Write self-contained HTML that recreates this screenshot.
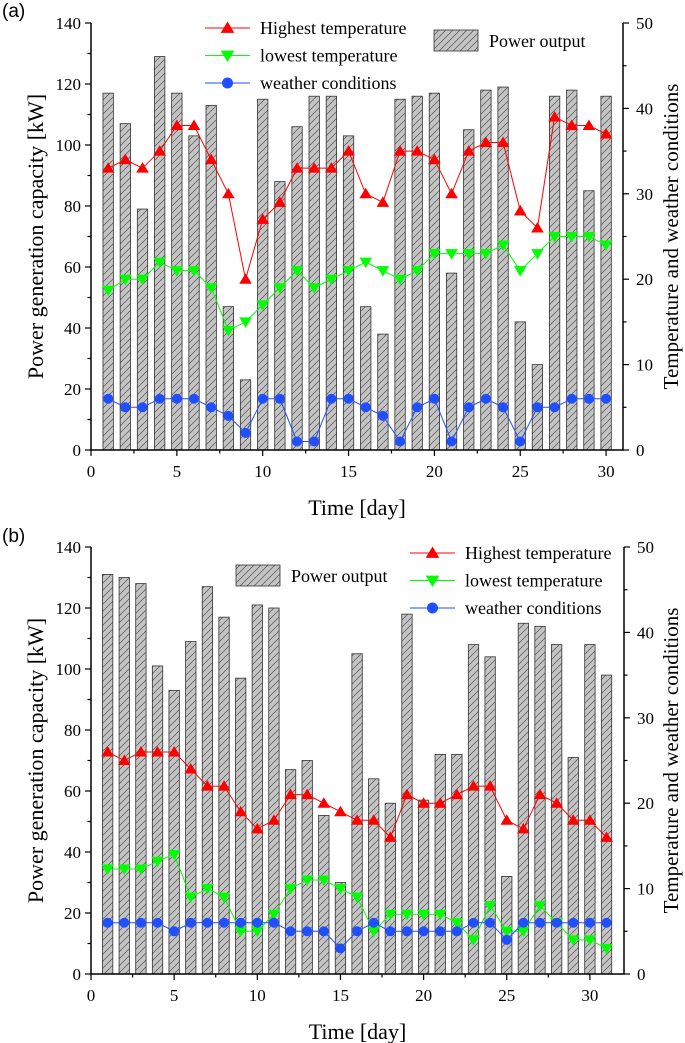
<!DOCTYPE html>
<html><head><meta charset="utf-8">
<style>
html,body{margin:0;padding:0;background:#fff;}
svg{display:block;}
text{font-family:"Liberation Serif",serif;fill:#000;}
</style></head>
<body>
<svg id="fig" width="685" height="1043" viewBox="0 0 685 1043" xmlns="http://www.w3.org/2000/svg">
<defs>
<pattern id="hatch" patternUnits="userSpaceOnUse" width="7" height="7">
<rect width="7" height="7" fill="#c4c4c4"/>
<path d="M-1,8 L8,-1 M-2,2 L2,-2 M5,9 L9,5" stroke="#555" stroke-width="0.7"/>
</pattern>
</defs>
</svg>
<script>
// ---- Chart (a) data ----
const daysA = [1,2,3,4,5,6,7,8,9,10,11,12,13,14,15,16,17,18,19,20,21,22,23,24,25,26,27,28,29,30];
const powerA = [117,107,79,129,117,103,113,47,23,115,88,106,116,116,103,47,38,115,116,117,58,105,118,119,42,28,116,118,85,116];
const highA = [33,34,33,35,38,38,34,30,20,27,29,33,33,33,35,30,29,35,35,34,30,35,36,36,28,26,39,38,38,37];
const lowA = [18.7,20,20,22,21,21,19,14,15,17,19,21,19,20,21,22,21,20,21,23,23,23,23,24,21,23,25,25,25,24];
const weatherA = [6,5,5,6,6,6,5,4,2,6,6,1,1,6,6,5,4,1,5,6,1,5,6,5,1,5,5,6,6,6];
// ---- Chart (b) data ----
const daysB = [1,2,3,4,5,6,7,8,9,10,11,12,13,14,15,16,17,18,19,20,21,22,23,24,25,26,27,28,29,30,31];
const powerB = [131,130,128,101,93,109,127,117,97,121,120,67,70,52,30,105,64,56,118,57,72,72,108,104,32,115,114,108,71,108,98];
const highB = [26,25,26,26,26,24,22,22,19,17,18,21,21,20,19,18,18,16,21,20,20,21,22,22,18,17,21,20,18,18,16];
const lowB = [12.3,12.3,12.3,13.2,14,9,10,9,5,5,7,10,11,11,10,9,5,7,7,7,7,6,4,8,5,5,8,6,4,4,3];
const weatherB = [6,6,6,6,5,6,6,6,6,6,6,5,5,5,3,5,6,5,5,5,5,5,6,6,4,6,6,6,6,6,6];
// ---- Axis ticks ----
const leftTicks = [0,20,40,60,80,100,120,140];
const rightTicks = [0,10,20,30,40,50];
const xTicksA = [0,5,10,15,20,25,30];
const xTicksB = [0,5,10,15,20,25,30];

const NS = "http://www.w3.org/2000/svg";
const svg = document.getElementById('fig');
function mk(tag, attrs, parent){
  const e = document.createElementNS(NS, tag);
  for (const k in attrs) e.setAttribute(k, attrs[k]);
  (parent||svg).appendChild(e);
  return e;
}
function triUp(x,y,s){return `${x},${y-s} ${x+s*1.05},${y+s*0.75} ${x-s*1.05},${y+s*0.75}`;}
function triDown(x,y,s){return `${x},${y+s} ${x+s*1.05},${y-s*0.75} ${x-s*1.05},${y-s*0.75}`;}

function drawChart(cfg, days, power, high, low, weather, xTicks){
  const g = mk('g', {});
  
  
  const X0 = cfg.x0, XR = cfg.xr, Y0 = cfg.y0, YT = cfg.yt;
  const xs = d => X0 + d * cfg.dx;
  const yl = v => Y0 - (v/140)*(Y0-YT);
  const yr = v => Y0 - (v/50)*(Y0-YT);
  days.forEach((d,i)=>{
    const b = mk('rect', {x: xs(d)-5.2, y: yl(power[i]), width: 10.4, height: Y0-yl(power[i]), fill:'url(#hatch)', stroke:'#333', 'stroke-width':0.8}, g);
    
    
  });
  const series = [
    {vals: high, color:'#ff0000', mark:'up', name:'highest-temperature-line'},
    {vals: low, color:'#00ff00', mark:'down', name:'lowest-temperature-line'},
    {vals: weather, color:'#1f4fff', mark:'circle', name:'weather-conditions-line'}
  ];
  series.forEach(s=>{
    const pts = days.map((d,i)=>`${xs(d)},${yr(s.vals[i])}`).join(' ');
    const pl = mk('polyline', {points: pts, fill:'none', stroke: s.color, 'stroke-width':1}, g);
    
    
    days.forEach((d,i)=>{
      const x = xs(d), y = yr(s.vals[i]);
      let m;
      if (s.mark==='up') m = mk('polygon', {points: triUp(x,y,6), fill: s.color}, g);
      else if (s.mark==='down') m = mk('polygon', {points: triDown(x,y,6), fill: s.color}, g);
      else m = mk('circle', {cx:x, cy:y, r:5, fill: s.color}, g);
      
      
    });
  });
  const ax = mk('path', {d:`M${X0},${YT} L${X0},${Y0} L${XR},${Y0} L${XR},${YT}`, fill:'none', stroke:'#000', 'stroke-width':1.5}, g);
  
  
  for (let v=0; v<=140; v+=10){
    const major = v%20===0;
    mk('line', {x1:X0, x2:X0-(major?6:3.5), y1:yl(v), y2:yl(v), stroke:'#000','stroke-width':1.2}, g);
  }
  leftTicks.forEach(v=>{
    const t = mk('text', {x:X0-10, y:yl(v)+6, 'text-anchor':'end', 'font-size':17}, g);
    t.textContent = v;
    
    
  });
  for (let v=0; v<=50; v+=5){
    const major = v%10===0;
    mk('line', {x1:XR, x2:XR+(major?6:3.5), y1:yr(v), y2:yr(v), stroke:'#000','stroke-width':1.2}, g);
  }
  rightTicks.forEach(v=>{
    const t = mk('text', {x:XR+13, y:yr(v)+6, 'text-anchor':'start', 'font-size':17}, g);
    t.textContent = v;
    
    
  });
  for (let d=0; d<=cfg.xmax; d+=2.5){
    const major = d%5===0;
    mk('line', {x1:xs(d), x2:xs(d), y1:Y0, y2:Y0+(major?6:3.5), stroke:'#000','stroke-width':1.2}, g);
  }
  xTicks.forEach(d=>{
    const t = mk('text', {x:xs(d), y:Y0+27, 'text-anchor':'middle', 'font-size':17}, g);
    t.textContent = d;
    
    
  });
  let t = mk('text', {x:(X0+XR)/2, y:Y0+65, 'text-anchor':'middle', 'font-size':22}, g);
  t.textContent = 'Time [day]';
  
  
  t = mk('text', {x:0, y:0, 'text-anchor':'middle', 'font-size':22, transform:`translate(43,${(Y0+YT)/2}) rotate(-90)`}, g);
  t.textContent = 'Power generation capacity [kW]';
  
  
  t = mk('text', {x:0, y:0, 'text-anchor':'middle', 'font-size':21, transform:`translate(678,${(Y0+YT)/2}) rotate(-90)`}, g);
  t.textContent = 'Temperature and weather conditions';
  
  
  t = mk('text', {x:2, y:cfg.labelY, 'font-size':19, style:'font-family:"Liberation Sans",sans-serif'}, g);
  t.textContent = cfg.label;
  
  
  const L = cfg.legend;
  const entries = [
    {text:'Highest temperature', color:'#ff0000', mark:'up'},
    {text:'lowest temperature', color:'#00ff00', mark:'down'},
    {text:'weather conditions', color:'#1f4fff', mark:'circle'}
  ];
  entries.forEach((e,i)=>{
    const y = L.y + i*27.5;
    const lg = mk('g', {}, g);
    
    
    mk('line', {x1:L.x, x2:L.x+45, y1:y, y2:y, stroke:e.color, 'stroke-width':1}, lg);
    const cx = L.x+22.5;
    if (e.mark==='up') mk('polygon', {points: triUp(cx,y,6.5), fill:e.color}, lg);
    else if (e.mark==='down') mk('polygon', {points: triDown(cx,y,6.5), fill:e.color}, lg);
    else mk('circle', {cx:cx, cy:y, r:5.5, fill:e.color}, lg);
    const tt = mk('text', {x:L.x+55, y:y+6, 'font-size':18}, lg);
    tt.textContent = e.text;
  });
  const pg = mk('g', {}, g);
  
  
  mk('rect', {x:L.px, y:L.py, width:44, height:21, fill:'url(#hatch)', stroke:'#333', 'stroke-width':0.8}, pg);
  const pt = mk('text', {x:L.px+55, y:L.py+17, 'font-size':18}, pg);
  pt.textContent = 'Power output';
}

drawChart({name:'chart-a', x0:91, xr:623, dx:17.17, y0:450, yt:23, xmax:30, label:'(a)', labelY:17,
  legend:{x:205, y:28, px:434, py:30}}, daysA, powerA, highA, lowA, weatherA, xTicksA);
drawChart({name:'chart-b', x0:91, xr:624, dx:16.63, y0:974, yt:547, xmax:31, label:'(b)', labelY:542,
  legend:{x:410, y:553, px:236, py:565}}, daysB, powerB, highB, lowB, weatherB, xTicksB);
</script>
</body></html>
